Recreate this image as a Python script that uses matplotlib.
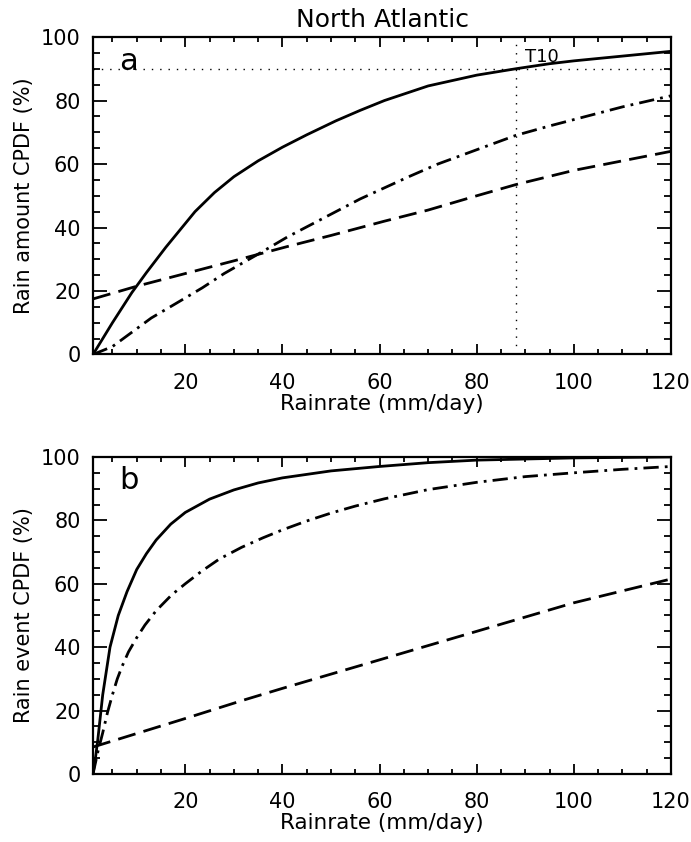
from matplotlib import pyplot as plt
from matplotlib.ticker import MultipleLocator

# panel a: rain amount CPDF (%)
amt_solid_x = [1, 3, 5, 9, 12, 16, 22, 26, 30, 35, 40, 45, 51, 56, 61, 70, 80, 88, 95, 100, 110, 120]
amt_solid_y = [0, 5, 10, 19.5, 25.8, 33.8, 45, 51, 56, 61, 65.3, 69.2, 73.6, 76.9, 80, 84.6, 88, 90, 91.6, 92.5, 94, 95.5]
amt_dashdot_x = [1, 5, 9, 13, 18, 23.5, 28, 32, 36, 41, 46, 51, 56, 61, 66, 72, 80, 88, 95, 100, 110, 120]
amt_dashdot_y = [0, 2.5, 7, 11.5, 16, 21, 25.5, 29, 32.5, 37, 41, 45, 49, 52.5, 56, 60, 64.5, 69, 72, 74, 78, 81.5]
amt_dashed_x = [1, 10, 20, 30, 41, 50, 61, 70, 80, 88, 100, 110, 120]
amt_dashed_y = [17.5, 21.5, 25.5, 29.5, 34, 37.5, 42, 45.5, 50, 53.5, 58, 61, 64]

# panel b: rain event CPDF (%)
evt_solid_x = [1, 1.5, 2, 3, 4.5, 6.2, 8, 10, 12, 14, 17, 20, 25, 30, 35, 40, 50, 60, 70, 80, 100, 120]
evt_solid_y = [0, 5, 11, 25, 40, 50, 57.5, 64.5, 69.5, 73.8, 78.8, 82.5, 86.7, 89.6, 91.8, 93.4, 95.6, 97, 98.2, 99, 99.7, 100]
evt_dashdot_x = [1, 2, 3, 4, 5, 6, 7, 8.3, 10, 11.7, 14, 17.2, 20, 23.4, 27, 31.6, 36, 40, 45, 50, 55,
                 61, 70, 80, 90, 100, 110, 120]
evt_dashdot_y = [0, 7, 13, 19.5, 25, 30, 34, 38.5, 43, 47, 51.5, 56.5, 60, 64, 67.8, 71.5, 74.5, 77, 79.8,
                 82.3, 84.5, 86.8, 89.7, 92, 93.8, 95, 96.1, 97]
evt_dashed_x = [1, 20, 32, 40, 60, 80, 100, 120]
evt_dashed_y = [8.5, 17.5, 23.3, 27, 36, 45, 54, 61.5]

t10_rate = 88
t10_level = 90

plt.rcParams['font.family'] = ['DejaVu Sans']


def setup_axis(ax, ylabel, letter):
    ax.set_xlim(1, 120)
    ax.set_ylim(0, 100)
    ax.xaxis.set_major_locator(MultipleLocator(20))
    ax.xaxis.set_minor_locator(MultipleLocator(5))
    ax.yaxis.set_major_locator(MultipleLocator(20))
    ax.yaxis.set_minor_locator(MultipleLocator(5))
    ax.set_xticks([20, 40, 60, 80, 100, 120])
    ax.set_yticks([0, 20, 40, 60, 80, 100])
    ax.tick_params(which='both', direction='in', top=True, right=True, width=1.3, labelsize=15)
    ax.tick_params(axis='y', which='major', length=10, pad=9)
    ax.tick_params(axis='y', which='minor', length=5)
    ax.tick_params(axis='x', which='major', length=7, pad=13)
    ax.tick_params(axis='x', which='minor', length=3.5)
    for s in ax.spines.values():
        s.set_linewidth(1.6)
    ax.set_xlabel('Rainrate (mm/day)', fontsize=15.5, labelpad=1)
    ax.set_ylabel(ylabel, fontsize=15, labelpad=5)
    ax.text(0.045, 0.97, letter, transform=ax.transAxes, fontsize=22, va='top', ha='left')


fig = plt.figure(figsize=(6.91, 8.42), dpi=100)
ax1 = fig.add_axes([0.1346, 0.579, 0.8365, 0.377])
ax2 = fig.add_axes([0.1346, 0.0808, 0.8365, 0.3765])

lw = 2.0
dash = [6.5, 3]
dashdot = [5.5, 2.2, 1, 2.2]

ax1.plot(amt_solid_x, amt_solid_y, color='black', lw=lw)
ax1.plot(amt_dashdot_x, amt_dashdot_y, color='black', lw=lw, dashes=dashdot)
ax1.plot(amt_dashed_x, amt_dashed_y, color='black', lw=lw, dashes=dash)
ax1.axhline(t10_level, color='black', lw=1, ls=(0, (1, 5)))
ax1.axvline(t10_rate, color='black', lw=1, ls=(0, (1, 5)))
ax1.text(t10_rate + 2, 96.5, 'T10', fontsize=13, va='top', ha='left')
ax1.set_title('North Atlantic', fontsize=18, pad=7)
setup_axis(ax1, 'Rain amount CPDF (%)', 'a')

ax2.plot(evt_solid_x, evt_solid_y, color='black', lw=lw)
ax2.plot(evt_dashdot_x, evt_dashdot_y, color='black', lw=lw, dashes=dashdot)
ax2.plot(evt_dashed_x, evt_dashed_y, color='black', lw=lw, dashes=dash)
setup_axis(ax2, 'Rain event CPDF (%)', 'b')

fig.savefig('out.png', dpi=100)
